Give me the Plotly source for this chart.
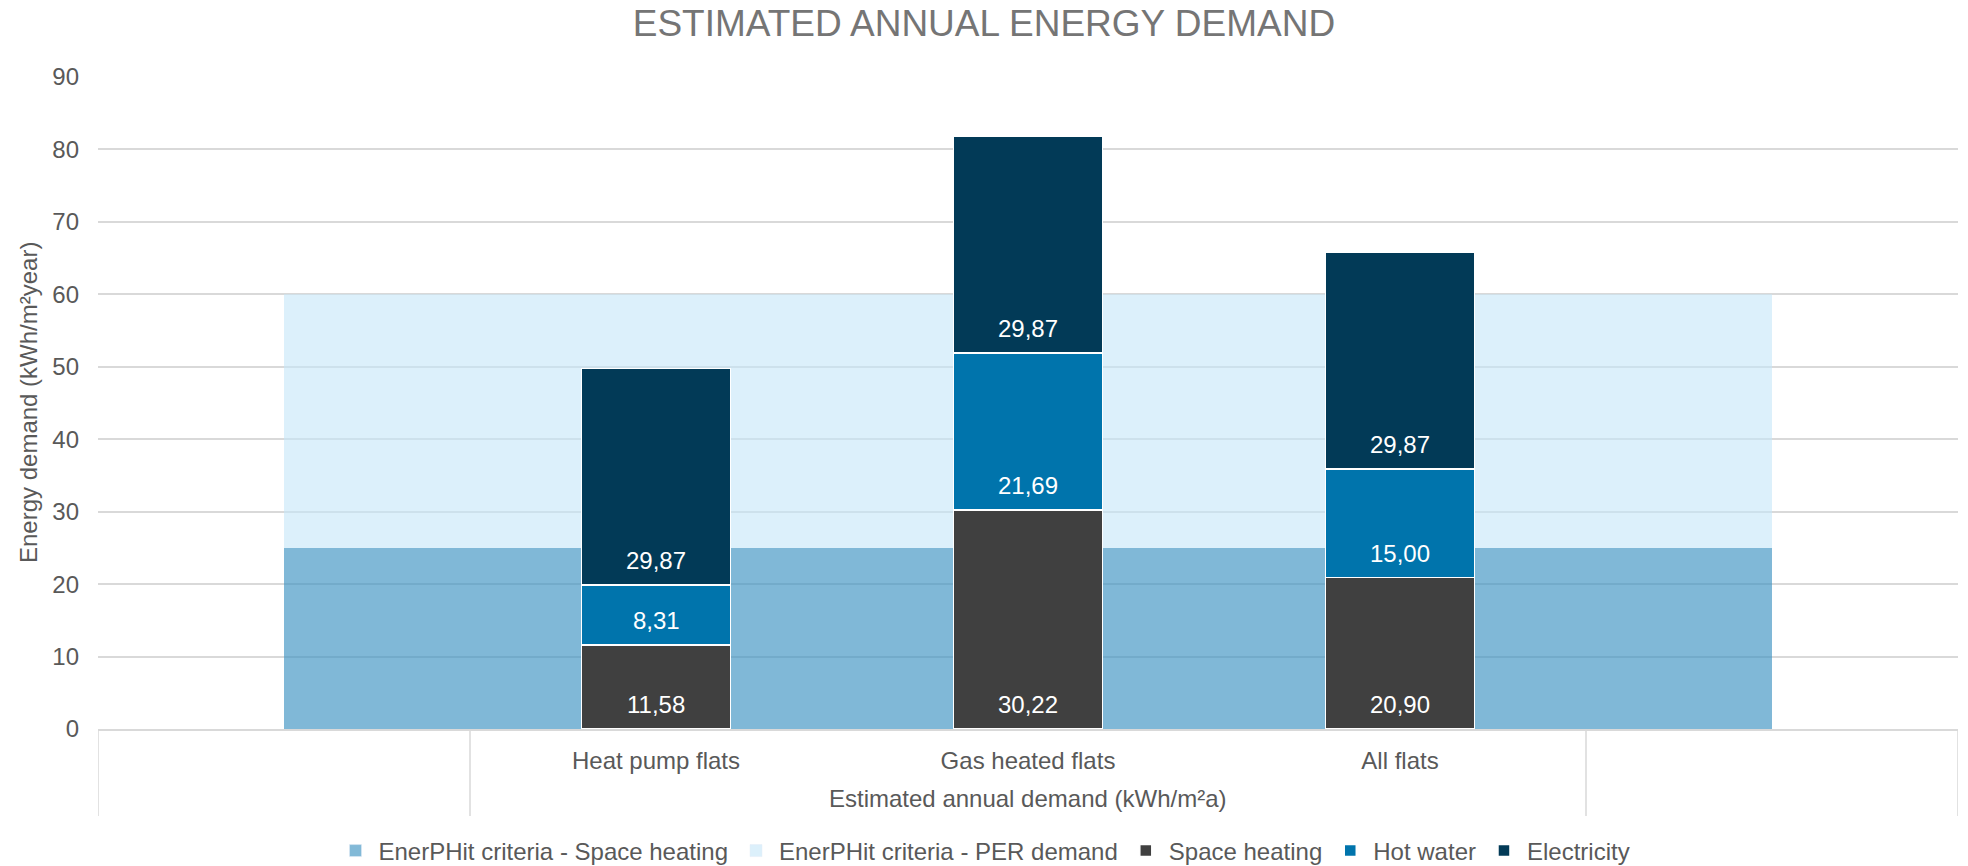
import plotly.graph_objects as go

# ---- data ----
categories = ["", "Heat pump flats", "Gas heated flats", "All flats", ""]
group_label = "Estimated annual demand (kWh/m²a)"
group_first, group_last = 1, 3

criteria_space_heating = [25, 25, 25, 25, 25]
criteria_per_demand = [60, 60, 60, 60, 60]

space_heating = [None, 11.58, 30.22, 20.90, None]
hot_water = [None, 8.31, 21.69, 15.00, None]
electricity = [None, 29.87, 29.87, 29.87, None]

y_ticks = [0, 10, 20, 30, 40, 50, 60, 70, 80, 90]

FONT = "Liberation Sans, Arial, sans-serif"
GREY = "#595959"
GRID = "#D9D9D9"

idx = list(range(len(categories)))

fig = go.Figure()

# background criteria areas (base subplot)
area_specs = [("EnerPHit criteria - Space heating", criteria_space_heating, "tozeroy",
               "rgba(60,146,194,0.65)", "#82B9D7"),
              ("EnerPHit criteria - PER demand", criteria_per_demand, "tonexty",
               "rgba(197,230,248,0.6)", "#DCF0FB")]
for name, vals, fill, fc, _ in area_specs:
    fig.add_trace(go.Scatter(
        x=idx, y=vals, name=name, mode="none", fill=fill, fillcolor=fc,
        hoverinfo="skip", showlegend=False))

# square legend entries for the areas
for name, _, _, _, solid in area_specs:
    fig.add_trace(go.Bar(x=[None], y=[None], name=name, yaxis="y2",
                         marker=dict(color=solid)))

# stacked bars on overlay axis (drawn above the areas)
bar_series = [("Space heating", space_heating, "#404040"),
              ("Hot water", hot_water, "#0074AC"),
              ("Electricity", electricity, "#023A57")]
for name, vals, col in bar_series:
    fig.add_trace(go.Bar(
        x=idx, y=vals, name=name, yaxis="y2",
        marker=dict(color=col, line=dict(color="white", width=1.5))))

# "inside base" data labels
annotations = []
base = [0.0] * len(idx)
for name, vals, col in bar_series:
    for i, v in enumerate(vals):
        if v is None:
            continue
        annotations.append(dict(
            text=f"{v:.2f}".replace(".", ","), xref="x", yref="y2",
            x=i, y=base[i], xanchor="center", yanchor="bottom", yshift=9,
            showarrow=False, font=dict(size=24, color="white", family=FONT)))
        base[i] += v

# axis-area separators
ybot = -87 / 652
shapes = []
for xb in [idx[0] - 0.5, group_first - 0.5, group_last + 0.5, idx[-1] + 0.5]:
    shapes.append(dict(type="line", xref="x", yref="paper", x0=xb, x1=xb,
                       y0=0, y1=ybot, line=dict(color=GRID, width=1.5)))

annotations += [
    dict(text=group_label, xref="x", yref="paper",
         x=(group_first + group_last) / 2, y=-69 / 652,
         xanchor="center", yanchor="middle", showarrow=False,
         font=dict(size=24, color=GREY, family=FONT)),
    dict(text="Energy demand (kWh/m²year)", xref="paper", yref="paper",
         x=(28 - 98) / 1860, y=0.5, textangle=-90,
         xanchor="center", yanchor="middle", showarrow=False,
         font=dict(size=24, color=GREY, family=FONT)),
]

fig.update_layout(
    width=1968, height=866,
    margin=dict(l=98, r=10, t=77, b=137, pad=0),
    plot_bgcolor="white", paper_bgcolor="white",
    separators=",.",
    barmode="stack", bargap=0.6,
    font=dict(family=FONT, size=24, color=GREY),
    title=dict(text="ESTIMATED ANNUAL ENERGY DEMAND", x=0.5, xanchor="center",
               xref="container", yref="container", y=1 - 23 / 866, yanchor="middle",
               font=dict(size=37, color="#757575", family=FONT)),
    xaxis=dict(range=[idx[0] - 0.5, idx[-1] + 0.5], tickvals=idx, ticktext=categories,
               showgrid=False, zeroline=False, showline=True, linecolor=GRID, linewidth=1.5,
               ticks="outside", ticklen=9, tickcolor="rgba(0,0,0,0)",
               tickfont=dict(size=24, color=GREY, family=FONT)),
    yaxis=dict(range=[0, 90], tickvals=y_ticks, showgrid=True, gridcolor=GRID, gridwidth=1.5,
               zeroline=False, showline=False, ticks="", ticklabelstandoff=18,
               tickfont=dict(size=24, color=GREY, family=FONT)),
    yaxis2=dict(range=[0, 90], overlaying="y", visible=False),
    legend=dict(orientation="h", xref="container", yref="container",
                x=0.5, xanchor="center", y=15 / 866, yanchor="middle",
                itemwidth=36,
                traceorder="normal", font=dict(size=24, color=GREY, family=FONT)),
    shapes=shapes, annotations=annotations,
    showlegend=True,
)

fig.write_html("out.html")
